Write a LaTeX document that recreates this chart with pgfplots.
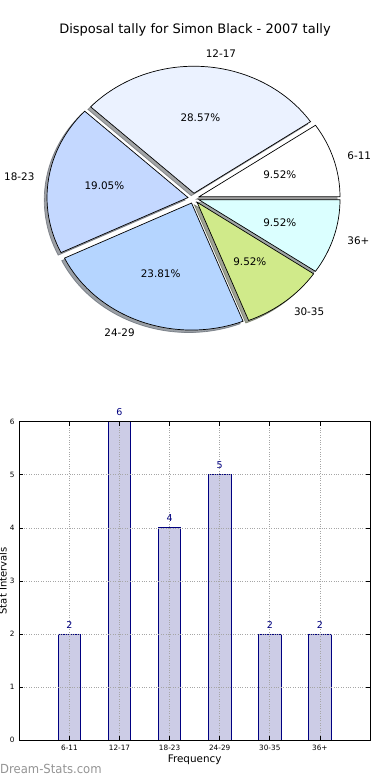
\documentclass[border=0pt]{standalone}
\usepackage{fontspec}
\setmainfont{DejaVu Sans}
\newfontfamily\wmfont{DejaVu Sans}[FakeStretch=0.93]
\usepackage{pgfplots}
\pgfplotsset{compat=1.18}
\definecolor{c611}{HTML}{FFFFFF}
\definecolor{c1217}{HTML}{EBF2FF}
\definecolor{c1823}{HTML}{C4D8FF}
\definecolor{c2429}{HTML}{B5D5FF}
\definecolor{c3035}{HTML}{D0EA8A}
\definecolor{c36}{HTML}{DBFFFF}
\definecolor{barfill}{HTML}{CCCCE6}
\definecolor{navyc}{HTML}{000080}
\def\pietotal{21}
\def\pieexp{0.04}
\begin{document}
\begin{tikzpicture}[x=1pt,y=1pt]
\path[use as bounding box] (0,0) rectangle (390,780);
\clip (0,0) rectangle (390,780);
\node[font=\fontsize{13}{15}\selectfont, anchor=base, inner sep=0pt] at (195,746) {Disposal tally for Simon Black - 2007 tally};

\begin{axis}[at={(193.6pt,581.7pt)}, anchor=center, scale only axis,
  width=366.6pt, height=330.2pt, xmin=-1.3, xmax=1.3, ymin=-1.3, ymax=1.3,
  hide axis, clip=false]
  % shadows
  \foreach \s/\n/\col in {0/2/c611, 2/6/c1217, 8/4/c1823, 12/5/c2429, 17/2/c3035, 19/2/c36}{
    \pgfmathsetmacro\sa{360*\s/\pietotal}
    \pgfmathsetmacro\ea{360*(\s+\n)/\pietotal}
    \pgfmathsetmacro\ma{(\sa+\ea)/2}
    \pgfmathsetmacro\ox{\pieexp*cos(\ma)-0.02}
    \pgfmathsetmacro\oy{\pieexp*sin(\ma)-0.02}
    \pgfmathsetmacro\px{\ox+cos(\sa)}
    \pgfmathsetmacro\py{\oy+sin(\sa)}
    \edef\tmp{\noexpand\filldraw[fill=\col!30!black, draw=\col!30!black, fill opacity=0.5, draw opacity=0.5, line width=0.7pt]
      (axis cs:\ox,\oy) -- (axis cs:\px,\py) arc[start angle=\sa, end angle=\ea, x radius=141pt, y radius=127pt] -- cycle;}
    \tmp
  }
  % wedges
  \foreach \s/\n/\col in {0/2/c611, 2/6/c1217, 8/4/c1823, 12/5/c2429, 17/2/c3035, 19/2/c36}{
    \pgfmathsetmacro\sa{360*\s/\pietotal}
    \pgfmathsetmacro\ea{360*(\s+\n)/\pietotal}
    \pgfmathsetmacro\ma{(\sa+\ea)/2}
    \pgfmathsetmacro\ox{\pieexp*cos(\ma)}
    \pgfmathsetmacro\oy{\pieexp*sin(\ma)}
    \pgfmathsetmacro\px{\ox+cos(\sa)}
    \pgfmathsetmacro\py{\oy+sin(\sa)}
    \edef\tmp{\noexpand\filldraw[fill=\col, draw=black, line width=0.7pt]
      (axis cs:\ox,\oy) -- (axis cs:\px,\py) arc[start angle=\sa, end angle=\ea, x radius=141pt, y radius=127pt] -- cycle;}
    \tmp
  }
  % labels
  \foreach \s/\n/\lab/\pct in {0/2/6-11/9.52, 2/6/12-17/28.57, 8/4/18-23/19.05, 12/5/24-29/23.81, 17/2/30-35/9.52, 19/2/36+/9.52}{
    \pgfmathsetmacro\sa{360*\s/\pietotal}
    \pgfmathsetmacro\ea{360*(\s+\n)/\pietotal}
    \pgfmathsetmacro\ma{(\sa+\ea)/2}
    \pgfmathsetmacro\cm{cos(\ma)}
    \pgfmathsetmacro\lx{(\pieexp+1.1)*cos(\ma)}
    \pgfmathsetmacro\ly{(\pieexp+1.1)*sin(\ma)}
    \pgfmathsetmacro\tx{(\pieexp+0.6)*cos(\ma)}
    \pgfmathsetmacro\ty{(\pieexp+0.6)*sin(\ma)}
    \ifdim\cm pt>0pt \def\anc{west}\else\def\anc{east}\fi
    \edef\tmp{\noexpand\node[anchor=\anc, inner sep=0pt, font=\noexpand\fontsize{10.4}{12}\noexpand\selectfont] at (axis cs:\lx,\ly) {\lab};
      \noexpand\node[anchor=center, inner sep=0pt, font=\noexpand\fontsize{10.4}{12}\noexpand\selectfont] at (axis cs:\tx,\ty) {\pct\noexpand\%};}
    \tmp
  }
\end{axis}

\begin{axis}[at={(19.3pt,40pt)}, anchor=south west, scale only axis,
  width=350.7pt, height=318.3pt,
  xmin=-1, xmax=6, ymin=0, ymax=6,
  xtick={0,...,5}, xticklabels={6-11,12-17,18-23,24-29,30-35,36+},
  ytick={0,...,6},
  tick align=inside, xtick pos=both, ytick pos=both, major tick length=4pt,
  every tick/.style={black, line width=0.6pt},
  grid=major, grid style={dotted, gray!70, line width=0.6pt},
  axis line style={line width=0.8pt},
  ticklabel style={font=\fontsize{7.3}{8}\selectfont},
  /pgf/number format/assume math mode=true,
  xticklabel style={anchor=base, yshift=-10.4pt},
  yticklabel style={xshift=-1.2pt},
  xlabel={Frequency}, ylabel={Stat Intervals},
  every axis x label/.style={at={(axis description cs:0.5,0)}, anchor=base, yshift=-22.5pt, font=\fontsize{10.4}{12}\selectfont},
  every axis y label/.style={at={(axis description cs:0,0.5)}, xshift=-16.4pt, rotate=90, anchor=center, font=\fontsize{10}{12}\selectfont},
  axis on top, clip=false,
  nodes near coords,
  nodes near coords style={font=\fontsize{9.5}{11}\selectfont, text=navyc, inner sep=0pt, anchor=south, yshift=5.5pt},
]
\addplot[ybar, bar width=22.5pt, fill=barfill, draw=navyc, line width=0.8pt]
  coordinates {(0,2) (1,6) (2,4) (3,5) (4,2) (5,2)};
\end{axis}

\node[anchor=base west, inner sep=0pt, text=black!42, font=\fontsize{12.5}{14}\selectfont\wmfont] at (0,6) {Dream-Stats.com};
\end{tikzpicture}
\end{document}
